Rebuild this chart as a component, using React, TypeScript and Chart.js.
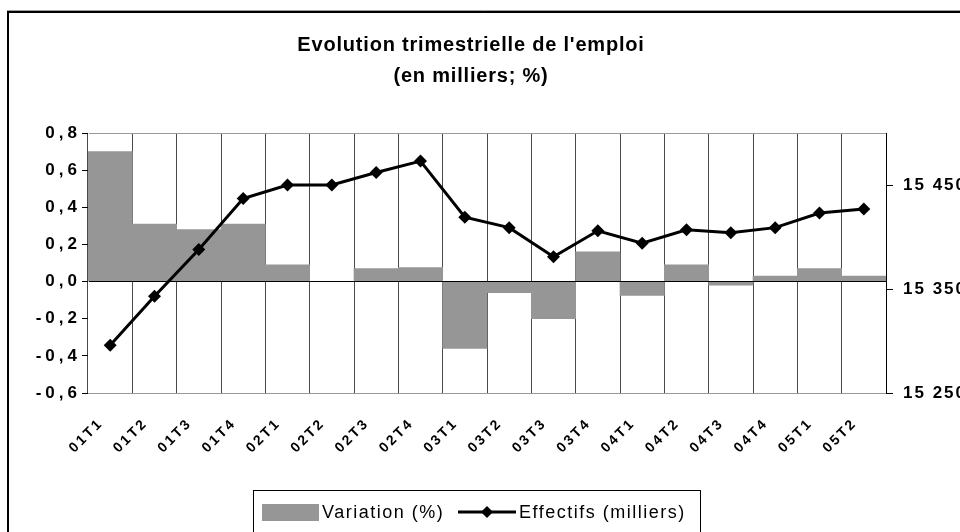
import React, { useEffect, useRef } from 'react';
import { Chart, registerables } from 'chart.js';

Chart.register(...registerables);

const categories = ['01T1', '01T2', '01T3', '01T4', '02T1', '02T2', '02T3', '02T4', '03T1', '03T2', '03T3', '03T4', '04T1', '04T2', '04T3', '04T4', '05T1', '05T2'];
const variationPct = [0.70, 0.31, 0.28, 0.31, 0.09, 0.0, 0.07, 0.075, -0.36, -0.06, -0.2, 0.16, -0.075, 0.09, -0.02, 0.03, 0.07, 0.03];
const effectifsMilliers = [15296, 15343, 15388, 15437, 15450, 15450, 15462, 15473, 15419, 15409, 15381, 15406, 15394, 15407, 15404, 15409, 15423, 15427];
const leftTicks = [-0.6, -0.4, -0.2, 0, 0.2, 0.4, 0.6, 0.8];
const rightTicks = [15250, 15350, 15450];
const titleLines = ["Evolution trimestrielle de l'emploi", '(en milliers; %)'];
const legendLabels = ['Variation (%)', 'Effectifs (milliers)'];

const FONT = '"Liberation Sans", Arial, sans-serif';
const BAR_GREY = '#969696';

const SPACING: Record<string, string> = { x: '2.5px', y: '4px', y1: '2px' };

const decor = {
  id: 'decor',
  beforeDraw(chart: any) {
    const ctx = chart.ctx;
    ctx.save();
    ctx.fillStyle = '#fff';
    ctx.fillRect(0, 0, chart.width, chart.height);
    ctx.restore();
    Object.keys(chart.scales).forEach((id) => {
      const s = chart.scales[id];
      if (s.__patched) return;
      const orig = s.drawLabels;
      s.drawLabels = function (area: any) {
        const c = this.ctx;
        const prev = c.letterSpacing;
        c.letterSpacing = SPACING[id] || '0px';
        orig.call(this, area);
        c.letterSpacing = prev || '0px';
      };
      s.__patched = true;
    });
  },
  afterDraw(chart: any) {
    const ctx = chart.ctx;
    ctx.save();
    ctx.letterSpacing = '0px';
    // margin outside the outer frame stays blank
    ctx.fillStyle = '#fff';
    ctx.fillRect(0, 0, 7, chart.height);
    // outer frame
    ctx.strokeStyle = '#a0a0a0';
    ctx.lineWidth = 1;
    ctx.beginPath();
    ctx.moveTo(7, 10.5);
    ctx.lineTo(960, 10.5);
    ctx.stroke();
    ctx.strokeStyle = '#000';
    ctx.lineWidth = 2;
    ctx.beginPath();
    ctx.moveTo(8, 540);
    ctx.lineTo(8, 12);
    ctx.lineTo(960, 12);
    ctx.stroke();

    // title
    ctx.fillStyle = '#000';
    ctx.font = `bold 20px ${FONT}`;
    ctx.letterSpacing = '0.8px';
    ctx.textAlign = 'center';
    ctx.textBaseline = 'middle';
    ctx.fillText(titleLines[0], 471, 45);
    ctx.fillText(titleLines[1], 471, 76);

    // legend
    ctx.letterSpacing = '0px';
    ctx.strokeStyle = '#000';
    ctx.lineWidth = 1;
    ctx.strokeRect(253.5, 490.5, 447, 60);
    ctx.fillStyle = BAR_GREY;
    ctx.fillRect(262, 504, 57, 17);
    ctx.fillStyle = '#000';
    ctx.font = `18px ${FONT}`;
    ctx.letterSpacing = '1.5px';
    ctx.textAlign = 'left';
    ctx.textBaseline = 'middle';
    ctx.fillText(legendLabels[0], 322, 513);
    ctx.fillText(legendLabels[1], 519, 513);
    ctx.lineWidth = 3;
    ctx.beginPath();
    ctx.moveTo(458, 512);
    ctx.lineTo(516, 512);
    ctx.stroke();
    ctx.beginPath();
    ctx.moveTo(487, 506);
    ctx.lineTo(493, 512);
    ctx.lineTo(487, 518);
    ctx.lineTo(481, 512);
    ctx.closePath();
    ctx.fill();
    ctx.restore();
  },
};

export default function App() {
  const ref = useRef<HTMLCanvasElement | null>(null);

  useEffect(() => {
    if (!ref.current) return;
    const chart = new Chart(ref.current, {
      type: 'bar',
      data: {
        labels: categories,
        datasets: [
          {
            type: 'line',
            label: legendLabels[1],
            data: effectifsMilliers,
            yAxisID: 'y1',
            borderColor: '#000',
            borderWidth: 3,
            pointStyle: 'rectRot',
            pointRadius: 6.5,
            pointBackgroundColor: '#000',
            pointBorderColor: '#000',
            pointBorderWidth: 0,
            tension: 0,
            order: 0,
          } as any,
          {
            type: 'bar',
            label: legendLabels[0],
            data: variationPct,
            yAxisID: 'y',
            backgroundColor: BAR_GREY,
            borderWidth: 0,
            barPercentage: 1,
            categoryPercentage: 1,
            order: 1,
          } as any,
        ],
      },
      options: {
        responsive: false,
        animation: false,
        layout: { padding: { top: 133, left: 0, right: 0, bottom: 0 } },
        plugins: {
          legend: { display: false },
          title: { display: false },
          tooltip: { enabled: false },
        },
        scales: {
          x: {
            offset: true,
            afterFit: (s: any) => { s.height = 139; },
            grid: { color: '#4a4a4a', lineWidth: 1, drawTicks: false, offset: true },
            border: { color: '#999', width: 1 },
            ticks: {
              autoSkip: false,
              minRotation: 45,
              maxRotation: 45,
              padding: 22,
              labelOffset: -9,
              color: '#000',
              font: { family: FONT, size: 14, weight: 'bold' },
            },
          },
          y: {
            position: 'left',
            min: -0.6,
            max: 0.8,
            afterFit: (s: any) => { s.width = 88; },
            afterBuildTicks: (s: any) => { s.ticks = leftTicks.map((v) => ({ value: v })); },
            grid: {
              z: 1,
              color: (c: any) => {
                const v = c.tick ? c.tick.value : null;
                if (v === 0) return '#000';
                if (v === 0.8 || v === -0.6) return '#999';
                return 'rgba(0,0,0,0)';
              },
              tickColor: '#000',
              tickLength: 6,
              lineWidth: 1,
            },
            border: { color: '#000', width: 1 },
            ticks: {
              padding: 1,
              color: '#000',
              font: { family: FONT, size: 17, weight: 'bold' },
              callback: (v: any) => Number(v).toFixed(1).replace('.', ','),
            },
          },
          y1: {
            position: 'right',
            min: 15250,
            max: 15500,
            afterFit: (s: any) => { s.width = 74; },
            afterBuildTicks: (s: any) => { s.ticks = rightTicks.map((v) => ({ value: v })); },
            grid: { drawOnChartArea: false, tickColor: '#000', tickLength: 7 },
            border: { color: '#000', width: 1 },
            ticks: {
              padding: 10,
              color: '#000',
              font: { family: FONT, size: 17, weight: 'bold' },
              callback: (v: any) => {
                const s = String(Math.round(Number(v)));
                return s.slice(0, s.length - 3) + ' ' + s.slice(-3);
              },
            },
          },
        },
      },
      plugins: [decor],
    });
    return () => chart.destroy();
  }, []);

  return (
    <div style={{ position: 'fixed', left: 0, top: 0, width: 960, height: 532, background: '#fff' }}>
      <canvas ref={ref} width={960} height={532} />
    </div>
  );
}
